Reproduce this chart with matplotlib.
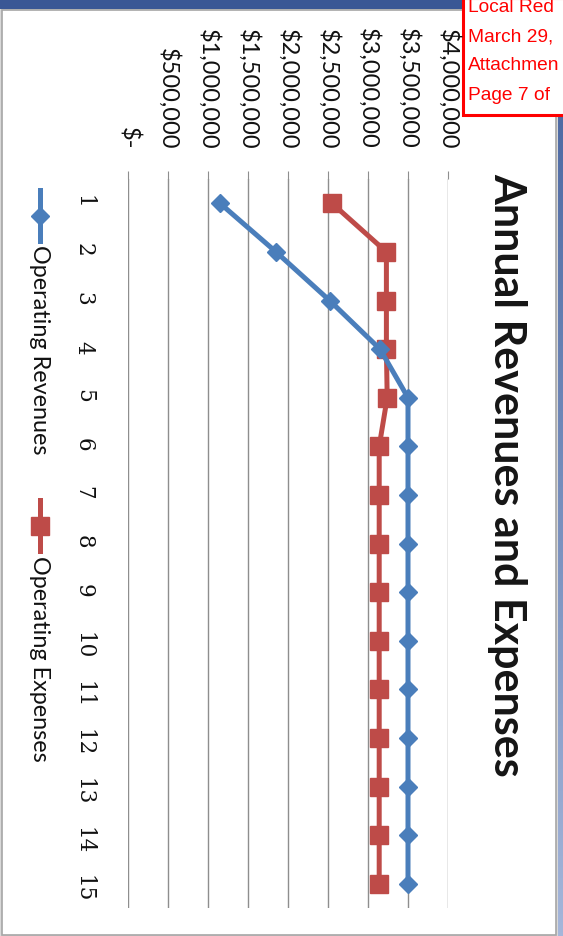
import matplotlib
matplotlib.use("Agg")
import matplotlib.pyplot as plt
import numpy as np
from matplotlib.lines import Line2D
from matplotlib.patches import Rectangle

# Chart data (15 years)
years = list(range(1, 16))
operating_revenues = [1150000, 1850000, 2520000, 3150000, 3500000,
                      3500000, 3500000, 3500000, 3500000, 3500000,
                      3500000, 3500000, 3500000, 3500000, 3500000]
operating_expenses = [2550000, 3230000, 3230000, 3230000, 3240000,
                      3140000, 3140000, 3140000, 3140000, 3140000,
                      3140000, 3140000, 3140000, 3140000, 3140000]
value_ticks = [0, 500000, 1000000, 1500000, 2000000, 2500000, 3000000, 3500000, 4000000]
value_labels = ["$-", "$500,000", "$1,000,000", "$1,500,000", "$2,000,000",
                "$2,500,000", "$3,000,000", "$3,500,000", "$4,000,000"]
series_names = ["Operating Revenues", "Operating Expenses"]
title = "Annual Revenues and Expenses"
note_lines = ["Local Red", "March 29,", "Attachmen", "Page 7 of"]

BLUE = "#4A7EBB"
RED = "#BE4B48"
GRID = "#8E8E8E"

W, H = 563, 936
DPI = 100
fig = plt.figure(figsize=(W / DPI, H / DPI), dpi=DPI)
fig.patch.set_facecolor("#d9d9d9")

# background overlay in pixel coordinates (page frame, strips, legend)
bg = fig.add_axes([0, 0, 1, 1], zorder=0)
bg.set_xlim(0, W)
bg.set_ylim(H, 0)
bg.axis("off")
bg.add_patch(Rectangle((2, 10), 554, 925, facecolor="white", edgecolor="#a6a6a6", lw=1.2))
bg.add_patch(Rectangle((0, 0), W, 9, facecolor="#3a5795", edgecolor="none"))
grad = np.linspace(0, 1, 256).reshape(-1, 1)
bg.imshow(grad, extent=(557.5, W, H, 9), aspect="auto",
          cmap=matplotlib.colors.LinearSegmentedColormap.from_list("strip", ["#44619d", "#a5b6da"]),
          zorder=1)

# plot area
left, right, top, bottom = 128, 448, 179, 908
ax = fig.add_axes([left / W, 1 - bottom / H, (right - left) / W, (bottom - top) / H], zorder=2)
ax.patch.set_alpha(0)
ax.set_xlim(0, 4000000)
ax.set_ylim(15.5, 0.5)

for v in value_ticks:
    ax.axvline(v, color=GRID, lw=1.0, zorder=1)
for s in ax.spines.values():
    s.set_visible(False)

ax.plot(operating_revenues, years, color=BLUE, lw=3.6, marker="D", markersize=9.5,
        markeredgecolor=BLUE, markerfacecolor=BLUE, zorder=4, solid_capstyle="butt")
ax.plot(operating_expenses, years, color=RED, lw=3.6, marker="s", markersize=12.5,
        markeredgecolor=RED, markerfacecolor=RED, zorder=3, solid_capstyle="butt")

ax.xaxis.tick_top()
ax.set_xticks(value_ticks)
ax.set_xticklabels(value_labels, rotation=-90, family="Lato", fontsize=17, color="#111111")
ax.tick_params(axis="x", which="major", length=5.5, width=0.8, color=GRID, pad=16)
ax.set_yticks(years)
ax.set_yticklabels([str(y) for y in years], rotation=-90, family="DejaVu Serif", fontsize=15.5,
                   color="#111111")
ax.tick_params(axis="y", length=0, pad=24)

# title
fig.text(507 / W, 1 - 475 / H, title, rotation=-90, ha="center", va="center",
         family="Lato", fontweight="bold", fontsize=31, color="#151515")

# legend, drawn rotated
def legend_key(x, y0, y1, color, marker, ms):
    bg.add_line(Line2D([x, x], [y0, y1], color=color, lw=3.6, zorder=3))
    bg.add_line(Line2D([x], [(y0 + y1) / 2], color=color, marker=marker, markersize=ms,
                       markeredgecolor=color, zorder=4))

legend_key(40, 190, 241, BLUE, "D", 9.5)
bg.text(39, 245, series_names[0], rotation=-90, ha="center", va="top",
        family="Lato", fontsize=16.8, color="#111111", zorder=4)
legend_key(40, 500, 551, RED, "s", 12.5)
bg.text(39, 556, series_names[1], rotation=-90, ha="center", va="top",
        family="Lato", fontsize=16.8, color="#111111", zorder=4)

# note box in the corner
bg.add_patch(Rectangle((463, -2), 110, 117, facecolor="white", edgecolor="#ff0000", lw=2.2, zorder=5))
for i, line in enumerate(note_lines):
    bg.text(468, 8 + i * 29, line, ha="left", va="center", family="Liberation Sans",
            fontsize=13.8, color="#ff0000", zorder=6)

fig.savefig("out.png", dpi=DPI, facecolor=fig.get_facecolor())
